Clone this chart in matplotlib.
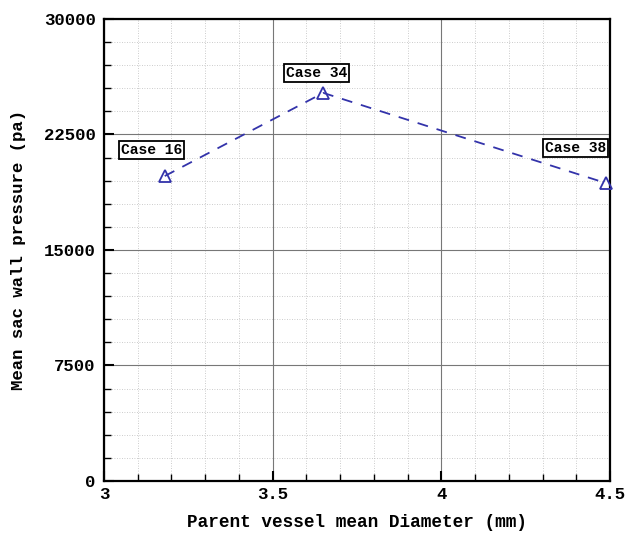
import matplotlib.pyplot as plt
from matplotlib.ticker import MultipleLocator

plt.rcParams['font.family'] = ['Liberation Mono', 'DejaVu Sans Mono']
plt.rcParams['font.weight'] = 'bold'

# parent vessel diameter vs mean sac wall pressure
diameter = [3.18, 3.65, 4.487]
pressure = [19800, 25200, 19350]
cases = ['Case 16', 'Case 34', 'Case 38']
label_pos = [(3.05, 21500), (3.54, 26500), (4.307, 21620)]

fig = plt.figure(figsize=(6.25, 5.33), dpi=100)
ax = fig.add_axes([0.1664, 0.0976, 0.8096, 0.8668])

ax.plot(diameter, pressure, color='#3333aa', ls=(0, (6, 5)), lw=1.3,
        marker='^', ms=9, mfc='none', mec='#3333aa', mew=1.3, clip_on=False, zorder=5)

for (x, y), txt in zip(label_pos, cases):
    ax.text(x, y, txt, fontsize=10.5, fontweight='bold', ha='left', va='center',
            bbox=dict(boxstyle='square,pad=0.12', fc='white', ec='black', lw=1.3), zorder=6)

ax.set_xlim(3, 4.5)
ax.set_ylim(0, 30000)
ax.xaxis.set_major_locator(MultipleLocator(0.5))
ax.xaxis.set_minor_locator(MultipleLocator(0.1))
ax.yaxis.set_major_locator(MultipleLocator(7500))
ax.yaxis.set_minor_locator(MultipleLocator(1500))
ax.xaxis.set_major_formatter(plt.FuncFormatter(lambda v, p: f'{v:g}'))

ax.grid(which='major', color='#777777', lw=0.8)
ax.grid(which='minor', color='#bbbbbb', lw=0.6, ls=(0, (1, 2)))
ax.tick_params(which='both', direction='in', labelsize=12.5)
ax.tick_params(axis='x', pad=4)
ax.tick_params(axis='y', pad=6)
ax.tick_params(which='major', length=7, width=1.5)
ax.tick_params(which='minor', length=5, width=1)
for s in ax.spines.values():
    s.set_linewidth(1.6)

ax.set_xlabel('Parent vessel mean Diameter (mm)', fontsize=12.8, fontweight='bold')
ax.set_ylabel('Mean sac wall pressure (pa)', fontsize=12.5, fontweight='bold')
ax.xaxis.set_label_coords(0.5, -0.072)
ax.yaxis.set_label_coords(-0.154, 0.5)

fig.savefig('out.png', dpi=100)
